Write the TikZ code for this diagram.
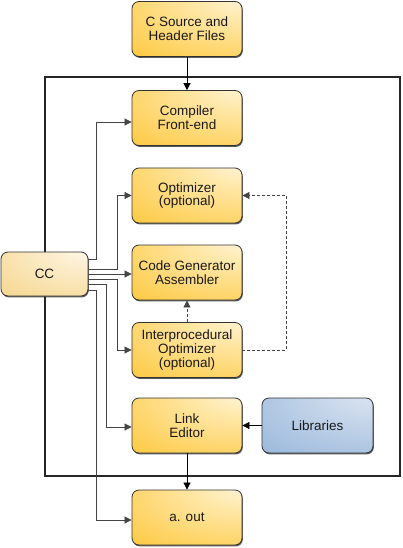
\documentclass[tikz,border=0pt]{standalone}
\usepackage{fontspec}
\setmainfont{Liberation Sans}
\usetikzlibrary{arrows.meta,shadows,calc}
\definecolor{o0}{HTML}{FFF9EA}
\definecolor{o1}{HTML}{FFE9AE}
\definecolor{o2}{HTML}{FDCB48}
\definecolor{o3}{HTML}{FBBD1E}
\definecolor{c0}{HTML}{FFFCF6}
\definecolor{c1}{HTML}{FCEFD2}
\definecolor{c2}{HTML}{F6D892}
\definecolor{c3}{HTML}{F1C76A}
\definecolor{b0}{HTML}{E2EAF4}
\definecolor{b1}{HTML}{CCDAEC}
\definecolor{b2}{HTML}{9DBBDD}
\definecolor{b3}{HTML}{86A9D2}
\definecolor{linegray}{HTML}{444444}
\pgfdeclareradialshading{orshade}{\pgfpoint{30bp}{35bp}}{color(0bp)=(o0); color(20bp)=(o1); color(60bp)=(o2); color(85bp)=(o3); color(150bp)=(o3)}
\pgfdeclareradialshading{ccshade}{\pgfpoint{30bp}{35bp}}{color(0bp)=(c0); color(20bp)=(c1); color(60bp)=(c2); color(85bp)=(c3); color(150bp)=(c3)}
\pgfdeclareradialshading{blshade}{\pgfpoint{30bp}{35bp}}{color(0bp)=(b0); color(20bp)=(b1); color(60bp)=(b2); color(85bp)=(b3); color(150bp)=(b3)}
\tikzset{
  box/.style={draw=black!80, line width=0.8pt, rounded corners=7pt,
    minimum width=110pt, minimum height=55pt, align=center, inner sep=0pt,
    font=\fontsize{13.5}{13.8}\selectfont, text=black!90, shading=orshade,
    drop shadow={shadow xshift=0.8pt, shadow yshift=-1.4pt, fill=black!80, opacity=0.8}},
  ccbox/.style={box, shading=ccshade, minimum width=87pt, minimum height=44pt},
  libbox/.style={box, shading=blshade, minimum width=111pt},
  arr/.style={-{Triangle[length=7pt,width=7pt]}, line width=0.7pt, draw=black},
  ccline/.style={arr, draw=linegray},
  dashln/.style={arr, draw=linegray, dash pattern=on 3pt off 2pt},
  frame/.style={draw=black!85, line width=1.5pt}
}
\begin{document}
\begin{tikzpicture}[x=1pt,y=-1pt]
\useasboundingbox (0,0) rectangle (402,548);
\draw[frame] (45,77) rectangle (400,476);
\node[box] (src) at (187,29) {C Source and\\Header Files};
\node[box] (fe) at (187,118) {Compiler\\Front-end};
\node[box] (opt) at (187,195.5) {Optimizer\\(optional)};
\node[box] (cg) at (187,272.5) {Code Generator\\Assembler};
\node[box] (ipo) at (187,350) {Interprocedural\\Optimizer\\(optional)};
\node[box] (le) at (187,425.5) {Link\\Editor};
\node[libbox] (lib) at (317.5,425.5) {Libraries};
\node[box] (aout) at (187,517.5) {a. out};
\node[ccbox] (cc) at (44.5,274) {CC};
\draw[arr] (src.south) -- (fe.north);
\draw[ccline] ([yshift=15pt]cc.east) -- ++(8,0) |- ([yshift=-4pt]fe.west);
\draw[ccline] ([yshift=5pt]cc.east) -- ++(29,0) |- (opt.west);
\draw[ccline] (cc.east) -- (cc.east -| cg.west);
\draw[ccline] ([yshift=-5pt]cc.east) -- ++(29,0) |- (ipo.west);
\draw[ccline] ([yshift=-10pt]cc.east) -- ++(18,0) |- ([yshift=-1.5pt]le.west);
\draw[ccline] ([yshift=-16pt]cc.east) -- ++(8,0) |- ([yshift=-2.5pt]aout.west);
\draw[dashln] (ipo.east) -- ++(44,0) |- (opt.east);
\draw[dashln] (ipo.north) -- (cg.south);
\draw[arr] (lib.west) -- (le.east);
\draw[arr] (le.south) -- (aout.north);
\end{tikzpicture}
\end{document}
